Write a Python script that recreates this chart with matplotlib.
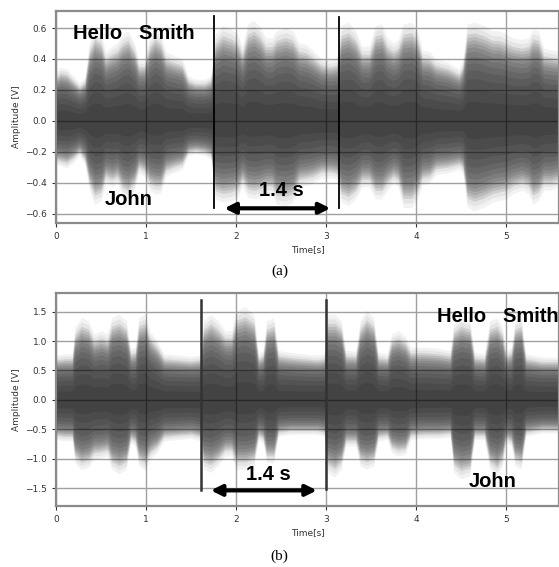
import numpy as np
import matplotlib
matplotlib.use("Agg")
import matplotlib.pyplot as plt

# envelope of the waveform: time [s], upper and lower peak [V]
t_a = [0.00, 0.05, 0.12, 0.19, 0.26, 0.32, 0.37, 0.43, 0.50, 0.55, 0.62, 0.68, 0.74, 0.80,
       0.87, 0.92, 0.98, 1.04, 1.10, 1.16, 1.22, 1.30, 1.40, 1.47, 1.55, 1.65, 1.72, 1.77,
       1.85, 1.95, 2.02, 2.07, 2.13, 2.20, 2.27, 2.33, 2.40, 2.45, 2.55, 2.63, 2.70, 2.78,
       2.85, 2.95, 3.05, 3.12, 3.17, 3.25, 3.33, 3.40, 3.48, 3.55, 3.62, 3.68, 3.75, 3.80,
       3.86, 3.95, 4.02, 4.07, 4.15, 4.22, 4.35, 4.48, 4.52, 4.57, 4.65, 4.75, 4.85, 4.92,
       5.00, 5.08, 5.18, 5.25, 5.30, 5.36, 5.42, 5.50, 5.59]
up_a = [0.28, 0.31, 0.30, 0.26, 0.22, 0.25, 0.45, 0.53, 0.50, 0.40, 0.43, 0.45, 0.50, 0.52,
        0.45, 0.35, 0.35, 0.48, 0.53, 0.50, 0.40, 0.38, 0.36, 0.26, 0.24, 0.24, 0.26, 0.50,
        0.55, 0.53, 0.50, 0.43, 0.56, 0.58, 0.54, 0.48, 0.48, 0.52, 0.54, 0.52, 0.45, 0.44,
        0.41, 0.36, 0.35, 0.36, 0.55, 0.57, 0.52, 0.43, 0.43, 0.55, 0.56, 0.48, 0.45, 0.47,
        0.56, 0.57, 0.52, 0.41, 0.40, 0.36, 0.34, 0.30, 0.35, 0.56, 0.57, 0.55, 0.52, 0.52,
        0.50, 0.48, 0.47, 0.48, 0.53, 0.52, 0.42, 0.41, 0.40]
lo_a = [-0.25, -0.26, -0.27, -0.24, -0.20, -0.25, -0.40, -0.48, -0.46, -0.36, -0.38, -0.36,
        -0.43, -0.45, -0.40, -0.30, -0.32, -0.40, -0.42, -0.42, -0.32, -0.30, -0.28, -0.20,
        -0.19, -0.20, -0.22, -0.45, -0.47, -0.46, -0.44, -0.38, -0.44, -0.45, -0.44, -0.42,
        -0.42, -0.48, -0.49, -0.47, -0.38, -0.37, -0.36, -0.33, -0.33, -0.34, -0.47, -0.49,
        -0.45, -0.38, -0.38, -0.45, -0.45, -0.40, -0.36, -0.38, -0.50, -0.50, -0.45, -0.37,
        -0.36, -0.31, -0.30, -0.28, -0.30, -0.50, -0.52, -0.50, -0.47, -0.46, -0.45, -0.42,
        -0.40, -0.42, -0.48, -0.46, -0.40, -0.40, -0.38]

t_b = [0.00, 0.10, 0.18, 0.21, 0.28, 0.36, 0.42, 0.50, 0.57, 0.62, 0.70, 0.78, 0.83, 0.88,
       0.92, 0.99, 1.04, 1.12, 1.20, 1.35, 1.50, 1.60, 1.64, 1.72, 1.80, 1.88, 1.95, 2.00,
       2.10, 2.20, 2.25, 2.30, 2.34, 2.42, 2.47, 2.60, 2.75, 2.90, 2.98, 3.02, 3.10, 3.17,
       3.22, 3.33, 3.38, 3.45, 3.53, 3.58, 3.68, 3.73, 3.80, 3.88, 3.94, 4.10, 4.25, 4.38,
       4.42, 4.50, 4.60, 4.65, 4.76, 4.82, 4.90, 4.96, 5.00, 5.06, 5.10, 5.17, 5.22, 5.40,
       5.59]
up_b = [0.68, 0.70, 0.70, 1.10, 1.25, 1.20, 1.00, 1.05, 1.00, 1.25, 1.30, 1.20, 0.78, 0.80,
        1.25, 1.30, 1.05, 0.90, 0.70, 0.68, 0.66, 0.68, 1.20, 1.30, 1.20, 1.05, 1.05, 1.35,
        1.41, 1.30, 0.70, 0.75, 1.20, 1.25, 0.75, 0.72, 0.70, 0.68, 0.70, 1.30, 1.30, 1.20,
        0.75, 0.74, 1.20, 1.36, 1.25, 0.72, 0.70, 1.00, 1.05, 0.97, 0.80, 0.80, 0.78, 0.75,
        1.15, 1.25, 1.20, 0.72, 0.70, 1.20, 1.25, 1.10, 0.75, 0.80, 1.20, 1.25, 0.70, 0.65,
        0.65]
lo_b = [-0.60, -0.62, -0.62, -0.95, -1.06, -1.02, -0.90, -0.88, -0.85, -1.05, -1.12, -1.05,
        -0.65, -0.70, -1.00, -1.07, -0.90, -0.80, -0.62, -0.60, -0.58, -0.62, -1.05, -1.10,
        -1.00, -0.85, -0.85, -1.05, -1.05, -1.00, -0.60, -0.65, -0.95, -0.95, -0.55, -0.52,
        -0.52, -0.52, -0.55, -1.10, -1.17, -1.05, -0.70, -0.70, -1.00, -1.05, -1.00, -0.62,
        -0.60, -0.80, -0.85, -0.83, -0.60, -0.58, -0.58, -0.56, -1.10, -1.20, -1.15, -0.60,
        -0.60, -1.05, -1.15, -1.00, -0.65, -0.70, -1.00, -1.05, -0.55, -0.50, -0.50]

plt.rcParams['font.family'] = 'DejaVu Sans'

fig = plt.figure(figsize=(5.59, 5.67), dpi=100)
ax1 = fig.add_axes([0.1002, 0.6067, 0.8998, 0.3739])
ax2 = fig.add_axes([0.1002, 0.1076, 0.8998, 0.3751])

# stacked translucent layers: dense toward the centre, soft at the peaks
fringe_k = [1.12, 1.06]
layer_k = [1.0, 0.96, 0.92, 0.88, 0.84, 0.79, 0.73, 0.66, 0.58, 0.48, 0.36, 0.22]


def draw_wave(ax, t, up, lo):
    up = np.array(up)
    lo = np.array(lo)
    for k in fringe_k:
        ax.fill_between(t, lo * k, up * k, color='black', alpha=0.05, lw=0, zorder=2)
    for k in layer_k:
        ax.fill_between(t, lo * k, up * k, color='black', alpha=0.095, lw=0, zorder=2)


draw_wave(ax1, t_a, up_a, lo_a)
draw_wave(ax2, t_b, up_b, lo_b)

ax1.set_xlim(0, 5.59)
ax1.set_ylim(-0.66, 0.71)
ax1.set_yticks([-0.6, -0.4, -0.2, 0.0, 0.2, 0.4, 0.6])
ax2.set_xlim(0, 5.59)
ax2.set_ylim(-1.8, 1.81)
ax2.set_yticks([-1.5, -1.0, -0.5, 0.0, 0.5, 1.0, 1.5])

for ax in (ax1, ax2):
    ax.set_xticks([0, 1, 2, 3, 4, 5])
    ax.grid(True, color='#a0a0a0', lw=1.0, zorder=1)
    ax.set_axisbelow(True)
    ax.tick_params(labelsize=6.5, colors='#333333', length=3, width=0.8)
    for s in ax.spines.values():
        s.set_color('#8a8a8a')
        s.set_linewidth(1.6)
    ax.set_xlabel('Time[s]', fontsize=6.5, color='#333333', labelpad=3)
    ax.set_ylabel('Amplitude [V]', fontsize=6.5, color='#333333', labelpad=3)

bold = dict(family='Liberation Sans', fontweight='bold', fontsize=14.5, color='black', zorder=5)

# (a)
ax1.plot([1.756, 1.756], [-0.56, 0.675], color='black', lw=1.3, zorder=4)
ax1.plot([3.144, 3.144], [-0.56, 0.67], color='black', lw=1.3, zorder=4)
ax1.annotate('', xy=(1.84, -0.565), xytext=(3.08, -0.565),
             arrowprops=dict(arrowstyle='<|-|>', color='black', lw=3, mutation_scale=16), zorder=5)
ax1.text(2.51, -0.45, '1.4 s', ha='center', va='center', **bold)
ax1.text(0.185, 0.563, 'Hello   Smith', ha='left', va='center', **bold)
ax1.text(0.544, -0.51, 'John', ha='left', va='center', **bold)

# (b)
ax2.plot([1.611, 1.611], [-1.53, 1.70], color='#333333', lw=1.8, zorder=4)
ax2.plot([3.0, 3.0], [-1.52, 1.70], color='#333333', lw=1.8, zorder=4)
ax2.annotate('', xy=(1.69, -1.535), xytext=(2.93, -1.535),
             arrowprops=dict(arrowstyle='<|-|>', color='black', lw=3, mutation_scale=16), zorder=5)
ax2.text(2.36, -1.26, '1.4 s', ha='center', va='center', **bold)
ax2.text(4.23, 1.41, 'Hello   Smith', ha='left', va='center', **bold)
ax2.text(4.59, -1.39, 'John', ha='left', va='center', **bold)

fig.text(0.5, 1 - 271 / 567, '(a)', ha='center', va='center', family='Liberation Serif', fontsize=11)
fig.text(0.5, 1 - 556 / 567, '(b)', ha='center', va='center', family='Liberation Serif', fontsize=11)

fig.savefig('out.png', dpi=100)
